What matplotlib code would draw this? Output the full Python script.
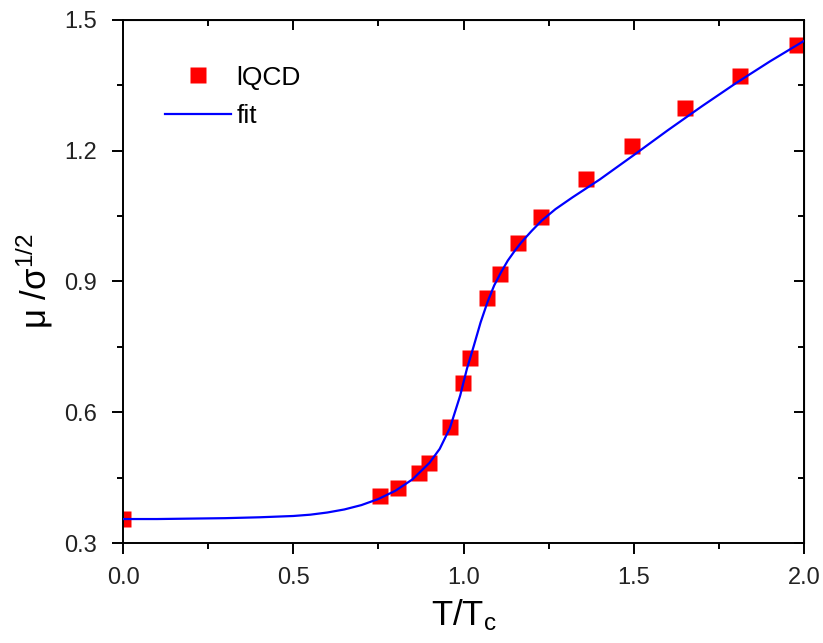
import numpy as np
import matplotlib
matplotlib.use('Agg')
import matplotlib.pyplot as plt
from matplotlib.ticker import MultipleLocator

plt.rcParams['font.family'] = ['Liberation Sans', 'DejaVu Sans']
plt.rcParams['mathtext.fontset'] = 'custom'
plt.rcParams['mathtext.rm'] = 'Liberation Sans'
plt.rcParams['mathtext.it'] = 'Liberation Sans'
plt.rcParams['mathtext.default'] = 'regular'

# lattice QCD points
t_lqcd = [0.0, 0.755, 0.807, 0.869, 0.898, 0.959, 0.999, 1.020, 1.068,
          1.106, 1.161, 1.228, 1.359, 1.495, 1.650, 1.812, 1.978]
mu_lqcd = [0.355, 0.407, 0.427, 0.461, 0.484, 0.565, 0.668, 0.725, 0.861,
           0.918, 0.988, 1.049, 1.134, 1.211, 1.298, 1.372, 1.443]

# fit curve
t_fit = [0.0, 0.1, 0.2, 0.3, 0.4, 0.5, 0.55, 0.6, 0.65, 0.7, 0.75, 0.8,
         0.85, 0.9, 0.93, 0.96, 0.99, 1.01, 1.03, 1.05, 1.07, 1.09, 1.11,
         1.13, 1.15, 1.17, 1.2, 1.23, 1.27, 1.32, 1.4, 1.5, 1.6, 1.7,
         1.8, 1.9, 2.0]
mu_fit = [0.355, 0.355, 0.356, 0.357, 0.359, 0.362, 0.365, 0.370, 0.377,
          0.387, 0.401, 0.420, 0.446, 0.484, 0.516, 0.564, 0.638, 0.700,
          0.752, 0.806, 0.852, 0.891, 0.921, 0.948, 0.970, 0.990, 1.016,
          1.040, 1.066, 1.093, 1.134, 1.190, 1.247, 1.302, 1.355, 1.405,
          1.452]

fig = plt.figure(figsize=(8.23, 6.43), dpi=100)
ax = fig.add_axes([0.1495, 0.1555, 0.8275, 0.8135])

ax.plot(t_fit, mu_fit, color='#0000ff', lw=1.6, label='fit', zorder=3)
ax.plot(t_lqcd, mu_lqcd, 's', color='#ff0000', ms=11.5, mec='none',
        label='lQCD', zorder=2)

ax.set_xlim(0, 2.0)
ax.set_ylim(0.3, 1.5)
ax.xaxis.set_major_locator(MultipleLocator(0.5))
ax.xaxis.set_minor_locator(MultipleLocator(0.25))
ax.yaxis.set_major_locator(MultipleLocator(0.3))
ax.yaxis.set_minor_locator(MultipleLocator(0.15))

for s in ax.spines.values():
    s.set_linewidth(1.4)
ax.tick_params(which='both', direction='out', width=1.4, labelsize=17,
               labelcolor='#222222')
ax.tick_params(axis='y', pad=11)
ax.tick_params(axis='x', pad=9)
ax.tick_params(which='major', length=8)
ax.tick_params(which='minor', length=4)

# inward ticks on top and right
top = ax.secondary_xaxis('top')
top.xaxis.set_major_locator(MultipleLocator(0.5))
top.xaxis.set_minor_locator(MultipleLocator(0.25))
right = ax.secondary_yaxis('right')
right.yaxis.set_major_locator(MultipleLocator(0.3))
right.yaxis.set_minor_locator(MultipleLocator(0.15))
for sec in (top, right):
    sec.tick_params(which='both', direction='in', width=1.4,
                    labeltop=False, labelright=False)
    sec.tick_params(which='major', length=7)
    sec.tick_params(which='minor', length=4)

ax.set_xlabel('T/T$_c$', fontsize=25, labelpad=6)
ax.set_ylabel('μ /σ$^{1/2}$', fontsize=25, labelpad=6)

handles, labels = ax.get_legend_handles_labels()
ax.legend([handles[1], handles[0]], [labels[1], labels[0]],
          loc='upper left', bbox_to_anchor=(0.027, 0.958), frameon=False,
          fontsize=19, handlelength=2.5, handletextpad=0.2,
          labelspacing=0.55)

fig.savefig('out.png', dpi=100)
